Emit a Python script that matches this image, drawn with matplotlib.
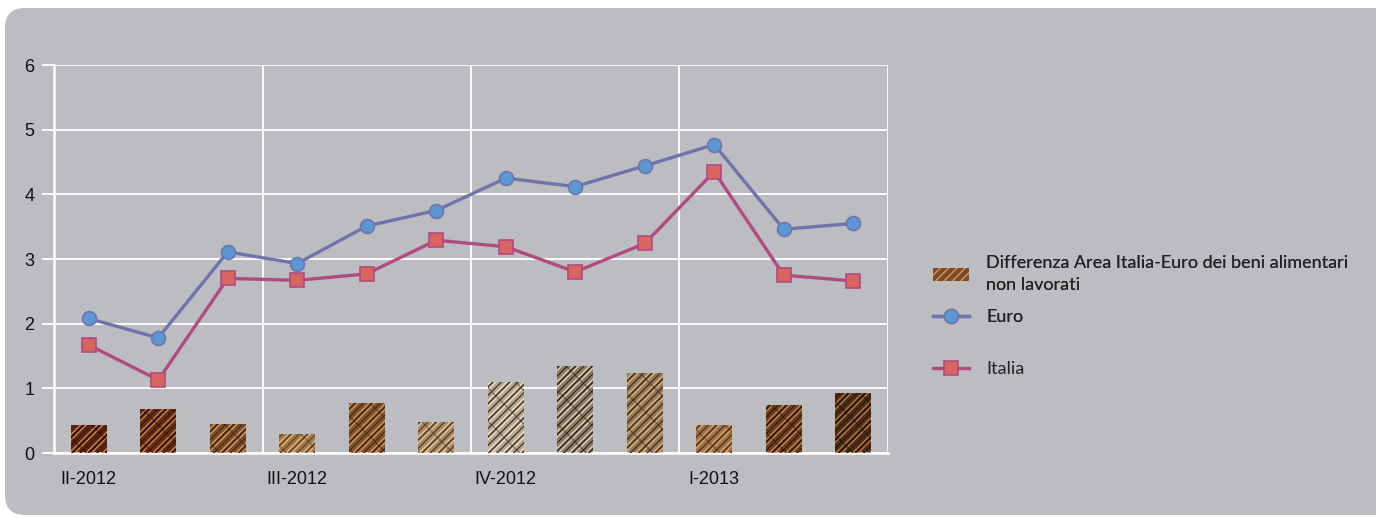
import numpy as np
import matplotlib.pyplot as plt
from matplotlib.patches import FancyBboxPatch, Patch
from matplotlib.lines import Line2D

# data
quarters = ['II-2012', '', '', 'III-2012', '', '', 'IV-2012', '', '', 'I-2013', '', '']
euro = [2.08, 1.78, 3.11, 2.93, 3.51, 3.75, 4.25, 4.12, 4.44, 4.77, 3.46, 3.55]
italia = [1.67, 1.13, 2.70, 2.67, 2.77, 3.29, 3.19, 2.80, 3.24, 4.35, 2.75, 2.66]
diff = [0.44, 0.68, 0.45, 0.30, 0.77, 0.48, 1.10, 1.34, 1.23, 0.44, 0.75, 0.93]

bar_base = ['#5a1f16', '#62281a', '#7a4a2a', '#a07848', '#7e5230', '#a88a66',
            '#b4a690', '#8a7c6a', '#98785a', '#9c7048', '#6a3a22', '#4c2a18']
hatch_light = ['#d08a40', '#c8843e', '#d49a58', '#e0b47a', '#d49850', '#e6c496',
               '#f0dcc0', '#e6cfa8', '#dcb07a', '#d8a060', '#c88a4a', '#b87a40']
hatch_dark = ['#2a0c08', '#2c1008', '#3a2212', '#5a4028', '#3c2614', '#4a3a2a',
              '#3a342c', '#2a2620', '#3a2c1e', '#4a3018', '#2a1408', '#1e1008']

bg = '#bcbdc1'
euro_line = '#7074ad'
euro_face = '#5b97d3'
ita_line = '#b24a82'
ita_face = '#d8655f'

plt.rcParams['hatch.linewidth'] = 1.0

fig = plt.figure(figsize=(13.76, 5.18), dpi=100)
fig.patch.set_facecolor('white')
panel = FancyBboxPatch((5 / 1376, 3 / 518), 1.2, 507 / 518,
                       boxstyle='round,pad=0,rounding_size=0.0145',
                       transform=fig.transFigure, facecolor=bg, edgecolor='none',
                       mutation_aspect=1376 / 518, zorder=-5)
fig.patches.append(panel)

ax = fig.add_axes([54 / 1376, 1 - 453 / 518, 834 / 1376, 388 / 518])
ax.set_facecolor(bg)

x = np.arange(len(euro))

# textured bars (layered hatches to mimic the scribble fill)
for i in x:
    ax.bar(i, diff[i], width=0.52, color=bar_base[i], linewidth=0, zorder=2)
    ax.bar(i, diff[i], width=0.52, color='none', edgecolor=hatch_light[i],
           hatch='//////', linewidth=0, zorder=3)
    ax.bar(i, diff[i], width=0.52, color='none', edgecolor=hatch_dark[i],
           hatch='////', linewidth=0, zorder=3)
    ax.bar(i, diff[i], width=0.52, color='none', edgecolor=hatch_dark[i],
           hatch='\\', linewidth=0, zorder=3, alpha=0.5)

ax.plot(x, euro, color=euro_line, lw=2.4, marker='o', ms=10,
        mfc=euro_face, mec=euro_line, mew=1.2, zorder=5)
ax.plot(x, italia, color=ita_line, lw=2.4, marker='s', ms=9.5,
        mfc=ita_face, mec=ita_line, mew=1.2, zorder=5)

ax.set_xlim(-0.5, 11.5)
ax.set_ylim(0, 6)
ax.set_yticks(range(7))
ax.set_xticks([-0.5, 2.5, 5.5, 8.5, 11.5], minor=False)
ax.set_xticklabels([])
ax.set_xticks([0, 3, 6, 9], minor=True)
ax.set_xticklabels([quarters[i] for i in [0, 3, 6, 9]], minor=True)
ax.tick_params(axis='x', which='both', length=0)
ax.tick_params(axis='x', which='minor', pad=13, labelsize=13)
ax.tick_params(axis='y', length=9, width=1.3, color='white', pad=5, labelsize=13)
for lab in ax.get_xticklabels(minor=True) + ax.get_yticklabels():
    lab.set_fontfamily('Liberation Sans')
    lab.set_color('#111111')
ax.grid(True, which='major', color='white', lw=1.3, zorder=0)
ax.set_axisbelow(True)
for s in ['top', 'right']:
    ax.spines[s].set_visible(False)
for s in ['left', 'bottom']:
    ax.spines[s].set_color('white')
    ax.spines[s].set_linewidth(1.8)

h_bar = Patch(facecolor='#7a4a2a', edgecolor='#d49a58', hatch='////', linewidth=0)
h_euro = Line2D([], [], color=euro_line, lw=2.4, marker='o', ms=10,
                mfc=euro_face, mec=euro_line, mew=1.2)
h_ita = Line2D([], [], color=ita_line, lw=2.4, marker='s', ms=9.5,
               mfc=ita_face, mec=ita_line, mew=1.2)

lp = dict(frameon=False, handlelength=2.0, handletextpad=0.95, borderpad=0,
          borderaxespad=0, prop={'family': 'Lato', 'size': 13},
          labelcolor='#222222')
leg1 = fig.legend([h_bar, h_euro],
                  ['Differenza Area Italia-Euro dei beni alimentari\nnon lavorati', 'Euro'],
                  loc='upper left', bbox_to_anchor=(933 / 1376, 1 - 255 / 518),
                  labelspacing=0.85, **lp)
for t in leg1.get_texts():
    t.set_linespacing(1.5)
fig.add_artist(leg1)
fig.legend([h_ita], ['Italia'], loc='center left',
           bbox_to_anchor=(933 / 1376, 1 - 369 / 518), **lp)

fig.savefig('out.png', dpi=100, facecolor='white')
